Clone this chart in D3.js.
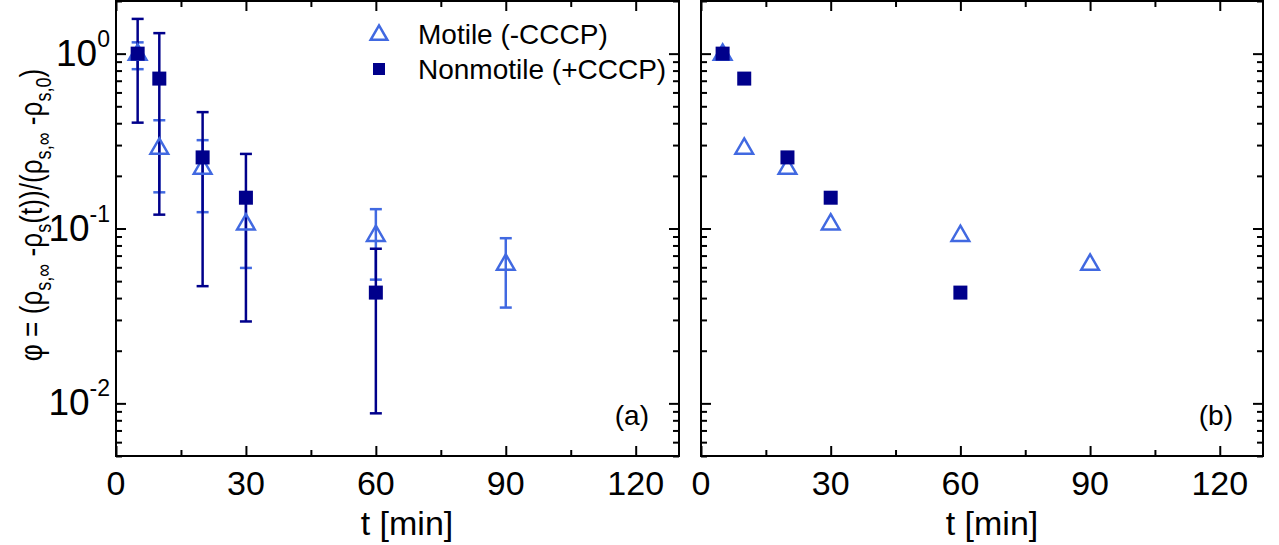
<!DOCTYPE html>
<html>
<head>
<meta charset="utf-8">
<script src="https://cdn.jsdelivr.net/npm/d3@7"></script>
<style>
  body { margin: 0; background: #fff; }
  text { font-family: "Liberation Sans", Arial, sans-serif; fill: #000; }
</style>
</head>
<body>
<div id="chart"></div>
<script>
// motile (-CCCP), measured at these times
var motileT  = [5, 10, 20, 30, 60, 90];
var motileY  = [1.0, 0.29, 0.223, 0.107, 0.092, 0.063];
var motileHi = [1.16, 0.416, 0.32, 0.149, 0.129, 0.088];
var motileLo = [0.815, 0.161, 0.124, 0.0595, 0.051, 0.0353];

// nonmotile (+CCCP)
var nonT  = [5, 10, 20, 30, 60];
var nonY  = [1.0, 0.72, 0.255, 0.150, 0.043];
var nonHi = [1.58, 1.31, 0.463, 0.267, 0.0766];
var nonLo = [0.403, 0.12, 0.0468, 0.0294, 0.00877];

var xTicks = [0, 30, 60, 90, 120];
var xMinor = [15, 45, 75, 105];
var yTicks = [0.01, 0.1, 1];
var yExp   = ["-2", "-1", "0"];

var width = 1279, height = 545;
var light = "#4169e1", dark = "#00008b";

var svg = d3.select("#chart").append("svg")
    .attr("width", width)
    .attr("height", height);

var y = d3.scaleLog().domain([0.005, 2]).range([456, 1]);
var yMinor = y.ticks().filter(function(v){ return yTicks.indexOf(v) < 0; });

function panel(left, right, errors, label, showY) {
  var x = d3.scaleLinear().domain([0, 130]).range([left, right]);
  var g = svg.append("g");

  // ticks, all pointing inward
  g.append("g").attr("transform", "translate(0,456)")
      .call(d3.axisBottom(x).tickValues(xTicks).tickSize(-10).tickFormat(""));
  g.append("g").attr("transform", "translate(0,456)")
      .call(d3.axisBottom(x).tickValues(xMinor).tickSize(-6).tickFormat(""));
  g.append("g").attr("transform", "translate(0,1)")
      .call(d3.axisTop(x).tickValues(xTicks).tickSize(-10).tickFormat(""));
  g.append("g").attr("transform", "translate(0,1)")
      .call(d3.axisTop(x).tickValues(xMinor).tickSize(-6).tickFormat(""));
  g.append("g").attr("transform", "translate(" + left + ",0)")
      .call(d3.axisLeft(y).tickValues(yTicks).tickSize(-10).tickFormat(""));
  g.append("g").attr("transform", "translate(" + left + ",0)")
      .call(d3.axisLeft(y).tickValues(yMinor).tickSize(-6).tickFormat(""));
  g.append("g").attr("transform", "translate(" + right + ",0)")
      .call(d3.axisRight(y).tickValues(yTicks).tickSize(-10).tickFormat(""));
  g.append("g").attr("transform", "translate(" + right + ",0)")
      .call(d3.axisRight(y).tickValues(yMinor).tickSize(-6).tickFormat(""));
  g.selectAll(".domain").remove();
  g.selectAll(".tick line").attr("stroke", "#000").attr("stroke-width", 2);

  g.append("rect")
      .attr("x", left).attr("y", 1)
      .attr("width", right - left).attr("height", 455)
      .attr("fill", "none").attr("stroke", "#000").attr("stroke-width", 2);

  // x tick labels
  g.selectAll(".xl").data(xTicks).enter().append("text")
      .attr("x", function(d){ return x(d); })
      .attr("y", 495)
      .attr("text-anchor", "middle")
      .style("font-size", "34px")
      .text(function(d){ return d; });

  g.append("text")
      .attr("x", left + 291).attr("y", 535)
      .attr("text-anchor", "middle")
      .style("font-size", "34px")
      .text("t [min]");

  g.append("text")
      .attr("x", right - 30).attr("y", 425)
      .attr("text-anchor", "end")
      .style("font-size", "28px")
      .text(label);

  if (showY) {
    var yl = g.selectAll(".yl").data(yTicks).enter().append("text")
        .attr("x", 110)
        .attr("y", function(d){ return y(d) + 12; })
        .attr("text-anchor", "end")
        .style("font-size", "37px");
    yl.append("tspan").text("10");
    yl.append("tspan").attr("dy", -19).style("font-size", "23px")
        .text(function(d, i){ return yExp[i]; });
  }

  var cap = 6;
  if (errors) {
    var eb = g.append("g").attr("stroke", light).attr("stroke-width", 2.5);
    motileT.forEach(function(t, i){
      eb.append("line").attr("x1", x(t)).attr("x2", x(t))
        .attr("y1", y(motileHi[i])).attr("y2", y(motileLo[i]));
      [motileHi[i], motileLo[i]].forEach(function(v){
        eb.append("line").attr("x1", x(t) - cap).attr("x2", x(t) + cap)
          .attr("y1", y(v)).attr("y2", y(v));
      });
    });
    var ed = g.append("g").attr("stroke", dark).attr("stroke-width", 2.5);
    nonT.forEach(function(t, i){
      ed.append("line").attr("x1", x(t)).attr("x2", x(t))
        .attr("y1", y(nonHi[i])).attr("y2", y(nonLo[i]));
      [nonHi[i], nonLo[i]].forEach(function(v){
        ed.append("line").attr("x1", x(t) - cap).attr("x2", x(t) + cap)
          .attr("y1", y(v)).attr("y2", y(v));
      });
    });
  }

  var tri = d3.symbol().type(d3.symbolTriangle).size(135);
  g.selectAll(".tri").data(motileT).enter().append("path")
      .attr("d", tri)
      .attr("transform", function(t, i){ return "translate(" + x(t) + "," + (y(motileY[i]) + 1) + ")"; })
      .attr("fill", errors ? "none" : "#fff")
      .attr("stroke", light).attr("stroke-width", 2.5);

  g.selectAll(".sq").data(nonT).enter().append("rect")
      .attr("x", function(t){ return x(t) - 7; })
      .attr("y", function(t, i){ return y(nonY[i]) - 7; })
      .attr("width", 14).attr("height", 14)
      .attr("fill", dark);
}

panel(116, 679, true, "(a)", true);
panel(701, 1263, false, "(b)", false);

// y axis title, squeezed along its length like the original
var title = svg.append("text")
    .attr("transform", "translate(42,215) rotate(-90) scale(0.82,1)")
    .attr("text-anchor", "middle")
    .style("font-size", "32px");
var parts = [["φ = (ρ", 0], ["s,∞", 1], [" -ρ", 0], ["s", 1], ["(t))/(ρ", 0], ["s,∞", 1], [" -ρ", 0], ["s,0", 1], [")", 0]];
var prev = 0;
parts.forEach(function(p){
  var shift = p[1] ? 9 : 0;
  title.append("tspan")
      .attr("dy", shift - prev)
      .style("font-size", p[1] ? "22px" : "32px")
      .text(p[0]);
  prev = shift;
});

// legend
var lg = svg.append("g");
lg.append("path").attr("d", d3.symbol().type(d3.symbolTriangle).size(120))
    .attr("transform", "translate(379,35)")
    .attr("fill", "none").attr("stroke", light).attr("stroke-width", 2.5);
lg.append("rect").attr("x", 373).attr("y", 63).attr("width", 12).attr("height", 12)
    .attr("fill", dark);
lg.append("text").attr("x", 418).attr("y", 44).style("font-size", "28px").text("Motile (-CCCP)");
lg.append("text").attr("x", 418).attr("y", 79).style("font-size", "28px").text("Nonmotile (+CCCP)");
</script>
</body>
</html>
